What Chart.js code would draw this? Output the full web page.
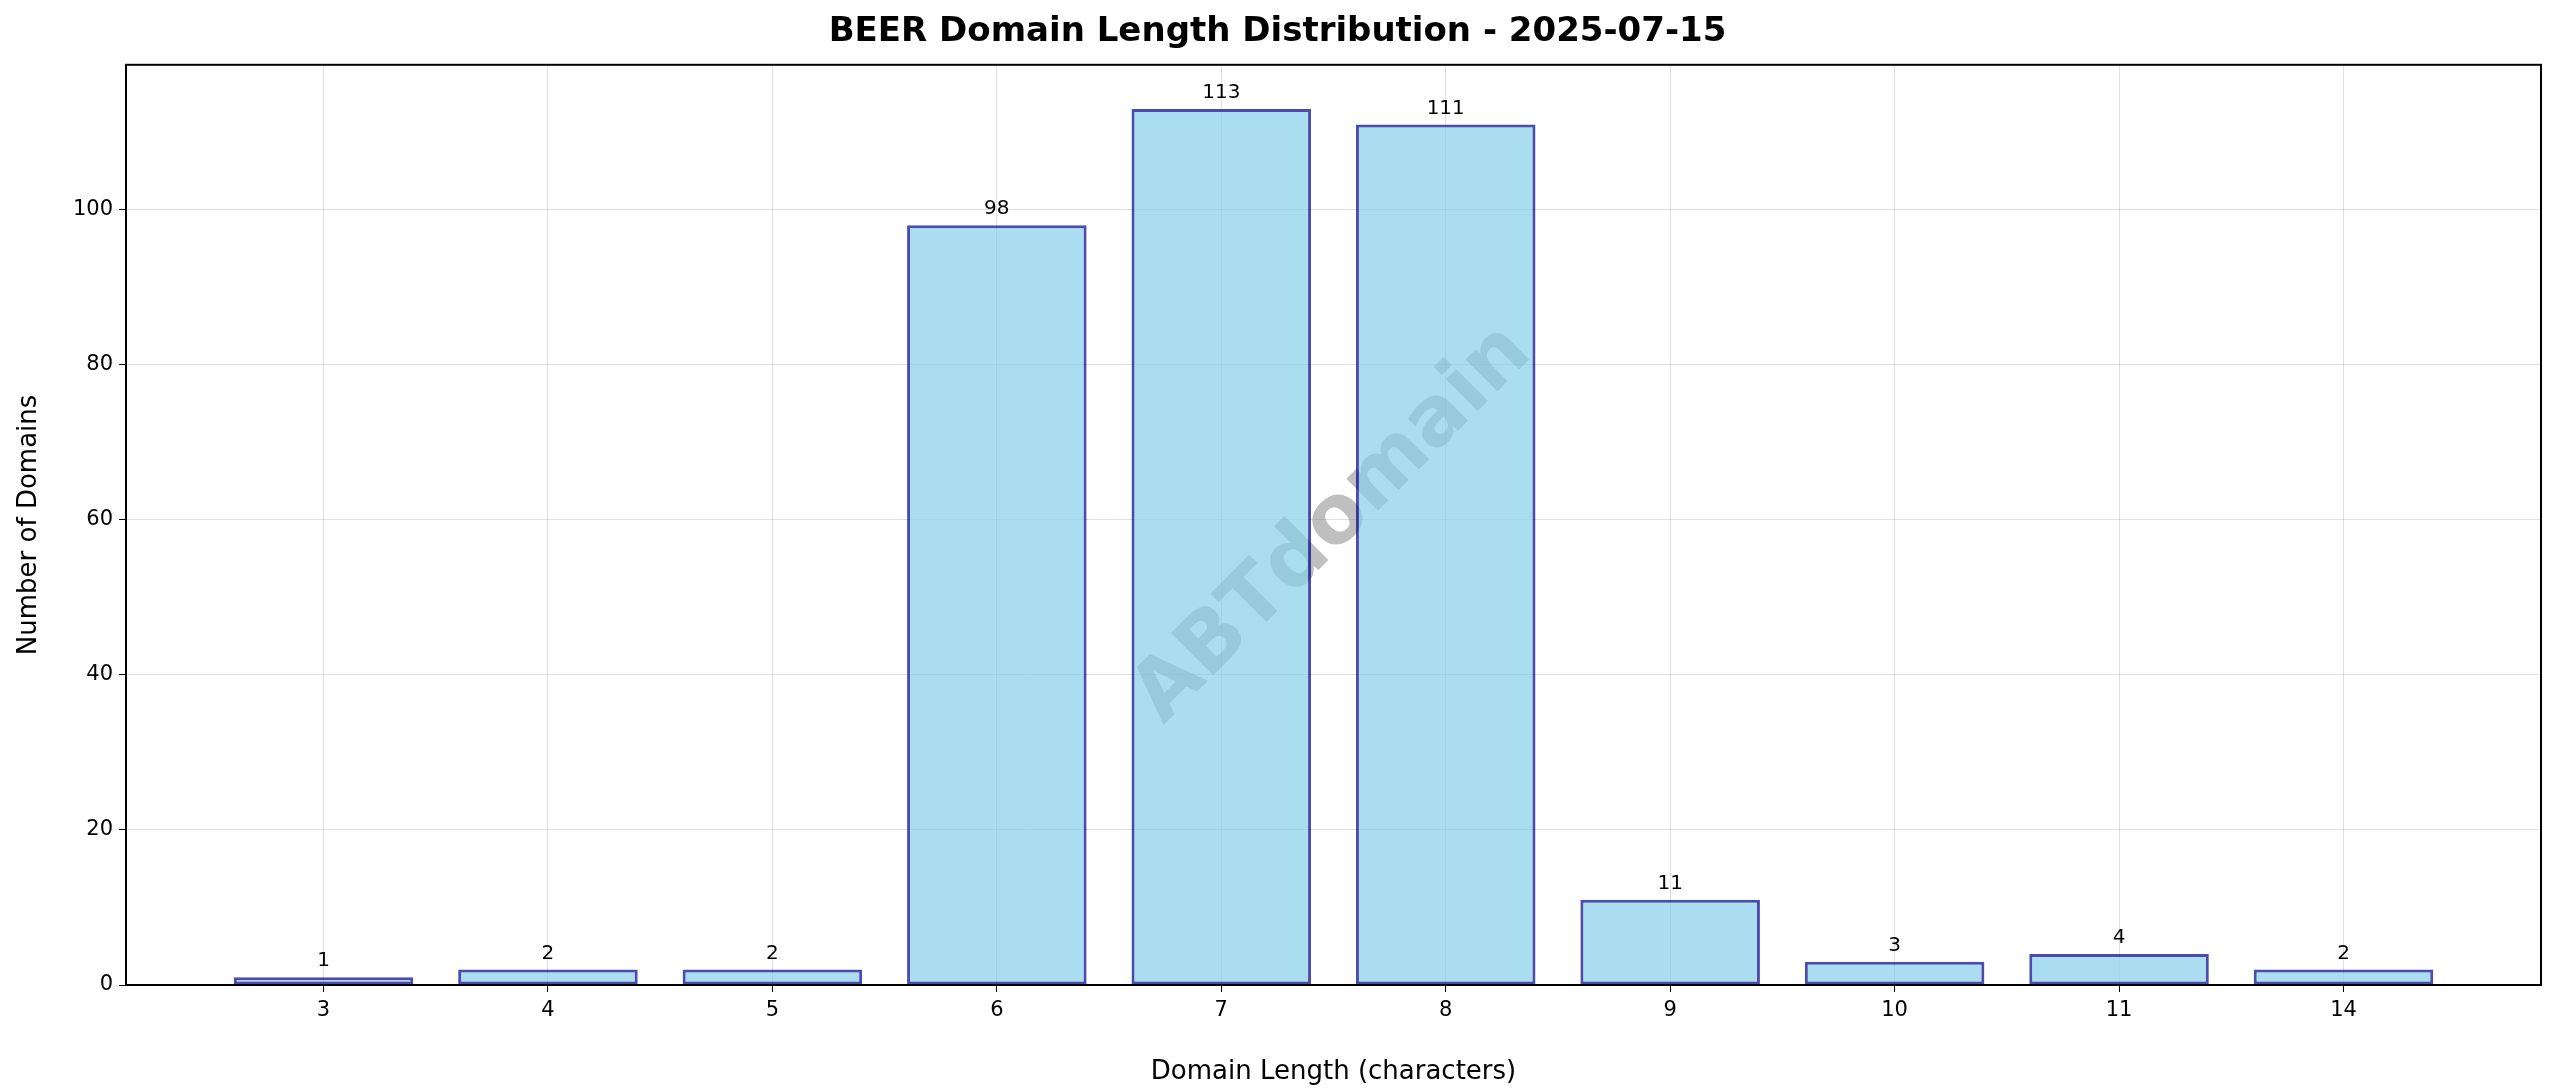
<!DOCTYPE html>
<html>
<head>
<meta charset="utf-8">
<script src="https://cdn.jsdelivr.net/npm/chart.js@4.4.0/dist/chart.umd.min.js"></script>
<style>
  html, body { margin: 0; padding: 0; background: #fff; }
</style>
</head>
<body>
<canvas id="chart" width="2560" height="1088"></canvas>
<script>
// domain lengths and how many domains have each length
const lengths = ['3', '4', '5', '6', '7', '8', '9', '10', '11', '14'];
const counts = [1, 2, 2, 98, 113, 111, 11, 3, 4, 2];

const FONT = '"DejaVu Sans", sans-serif';

const boxAndLabels = {
    id: 'boxAndLabels',
    beforeDatasetsDraw(chart) {
        const { ctx, chartArea: a } = chart;
        // watermark
        ctx.save();
        ctx.translate((a.left + a.right) / 2, (a.top + a.bottom) / 2);
        ctx.rotate(-Math.PI / 4);
        ctx.font = 'bold 82px ' + FONT;
        ctx.fillStyle = 'rgba(128,128,128,0.5)';
        ctx.textAlign = 'center';
        ctx.textBaseline = 'middle';
        ctx.fillText('ABTdomain', 0, 0);
        ctx.restore();
    },
    afterDatasetsDraw(chart) {
        const { ctx, chartArea: a } = chart;
        ctx.save();
        const meta = chart.getDatasetMeta(0);
        ctx.font = '20px ' + FONT;
        ctx.fillStyle = '#000';
        ctx.textAlign = 'center';
        ctx.textBaseline = 'bottom';
        meta.data.forEach((bar, i) => {
            ctx.fillText(String(counts[i]), bar.x, bar.y - 6);
        });
        ctx.strokeStyle = '#000';
        ctx.lineWidth = 2;
        ctx.strokeRect(a.left, a.top, a.right - a.left, a.bottom - a.top);
        ctx.restore();
    }
};

new Chart(document.getElementById('chart').getContext('2d'), {
    type: 'bar',
    data: {
        datasets: [{
            data: counts.map((c, i) => ({ x: i, y: c })),
            backgroundColor: 'rgba(135,206,235,0.7)',
            borderColor: 'rgba(0,0,139,0.7)',
            borderWidth: 3,
            borderSkipped: false,
            barPercentage: 0.8,
            categoryPercentage: 1.0,
        }],
    },
    options: {
        responsive: false,
        animation: false,
        devicePixelRatio: 1,
        layout: { padding: { left: 14, right: 19, top: 0, bottom: 0 } },
        plugins: {
            legend: { display: false },
            tooltip: { enabled: false },
            title: {
                display: true,
                text: 'BEER Domain Length Distribution - 2025-07-15',
                color: '#000',
                font: { family: FONT, size: 34, weight: 'bold' },
                padding: { top: 12, bottom: 12 },
            },
        },
        scales: {
            x: {
                type: 'linear',
                offset: false,
                min: -0.88,
                max: 9.88,
                afterBuildTicks: s => { s.ticks = lengths.map((_, i) => ({ value: i })); },
                ticks: {
                    callback: v => lengths[v],
                    color: '#000',
                    font: { family: FONT, size: 21 },
                    padding: 6,
                },
                grid: { offset: false, color: 'rgba(0,0,0,0.12)', tickColor: '#000', tickLength: 7 },
                border: { display: false },
                title: {
                    display: true,
                    text: 'Domain Length (characters)',
                    color: '#000',
                    font: { family: FONT, size: 26 },
                    padding: { top: 4, bottom: 0 },
                },
                afterFit: s => { s.height = 103; },
            },
            y: {
                min: 0,
                max: 118.7,
                afterBuildTicks: s => { s.ticks = [0, 20, 40, 60, 80, 100].map(v => ({ value: v })); },
                ticks: {
                    color: '#000',
                    font: { family: FONT, size: 21 },
                    padding: 6,
                },
                grid: { color: 'rgba(0,0,0,0.12)', tickColor: '#000', tickLength: 7 },
                border: { display: false },
                title: {
                    display: true,
                    text: 'Number of Domains',
                    color: '#000',
                    font: { family: FONT, size: 26 },
                    padding: { top: 0, bottom: 6 },
                },
                afterFit: s => { s.width = 112; },
            },
        },
    },
    plugins: [boxAndLabels],
});
</script>
</body>
</html>
